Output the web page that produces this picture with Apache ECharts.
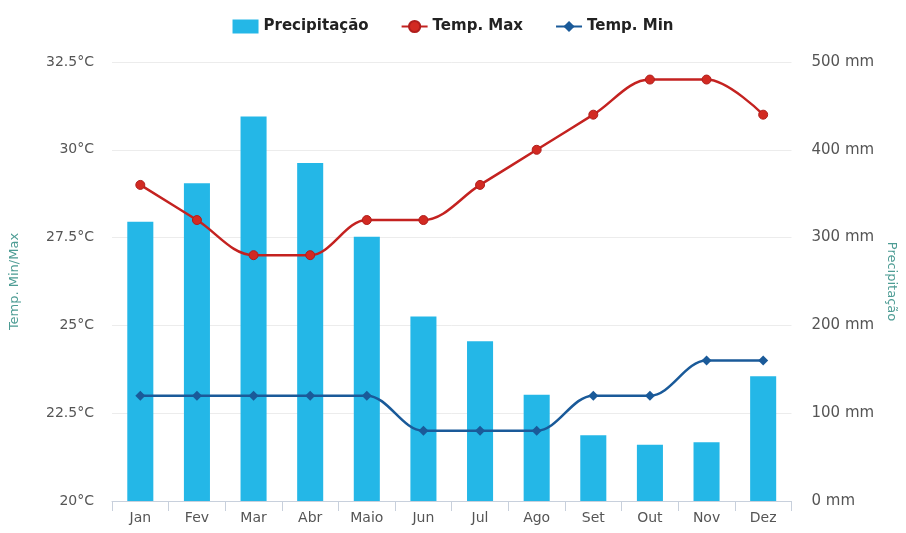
<!DOCTYPE html>
<html><head><meta charset="utf-8">
<script src="https://cdn.jsdelivr.net/npm/echarts@6/dist/echarts.min.js"></script>
<style>html,body{margin:0;padding:0;background:#fff}#c{width:906px;height:533px}</style>
</head><body><div id="c"></div>
<script>
const months = ['Jan','Fev','Mar','Abr','Maio','Jun','Jul','Ago','Set','Out','Nov','Dez'];
const precipitacao = [318, 362, 438, 385, 301, 210, 182, 121, 75, 64, 67, 142];
const tempMax = [29, 28, 27, 27, 28, 28, 29, 30, 31, 32, 32, 31];
const tempMin = [23, 23, 23, 23, 23, 22, 22, 22, 23, 23, 24, 24];
const font = 'DejaVu Sans';
const chart = echarts.init(document.getElementById('c'), null, {renderer:'canvas'});
chart.setOption({
  animation:false,
  backgroundColor:'#fff',
  textStyle:{fontFamily:font},
  legend:{
    top:14, left:'center', itemGap:32, itemWidth:26, itemHeight:14,
    textStyle:{fontFamily:font, fontWeight:'bold', fontSize:15, color:'#222'},
    data:[
      {name:'Precipitação', icon:'rect'},
      {name:'Temp. Max'},
      {name:'Temp. Min'}
    ]
  },
  grid:{left:110, right:111, top:62, bottom:32},
  xAxis:{
    type:'category', data:months,
    axisLine:{lineStyle:{color:'#c8d0dc'}},
    axisTick:{show:true, length:10, lineStyle:{color:'#c8d0dc'}},
    axisLabel:{color:'#555', fontSize:14, margin:10, fontFamily:font}
  },
  yAxis:[
    {type:'value', min:20, max:32.5, interval:2.5, position:'left',
     name:'Temp. Min/Max', nameLocation:'middle', nameGap:91, nameRotate:90,
     nameTextStyle:{color:'#4d9c94', fontSize:13, fontFamily:font},
     axisLabel:{color:'#555', fontSize:14, margin:18, formatter:v=>v+'°C'},
     splitLine:{lineStyle:{color:'#ececec'}}, axisLine:{show:false}, axisTick:{show:false}},
    {type:'value', min:0, max:500, interval:100, position:'right',
     name:'Precipitação', nameLocation:'middle', nameGap:93, nameRotate:-90,
     nameTextStyle:{color:'#4d9c94', fontSize:13, fontFamily:font},
     axisLabel:{color:'#555', fontSize:15, margin:20, formatter:v=>v+' mm'},
     splitLine:{show:false}, axisLine:{show:false}, axisTick:{show:false}}
  ],
  series:[
    {name:'Precipitação', type:'bar', yAxisIndex:1, data:precipitacao, barWidth:'46%',
     itemStyle:{color:'#24b7e7'}},
    {name:'Temp. Max', type:'line', yAxisIndex:0, data:tempMax, smooth:0.35,
     symbol:'circle', symbolSize:9,
     lineStyle:{color:'#c42220', width:2.5}, itemStyle:{color:'#d22a22', borderColor:'#b01e1c', borderWidth:1}},
    {name:'Temp. Min', type:'line', yAxisIndex:0, data:tempMin, smooth:0.35,
     symbol:'diamond', symbolSize:10,
     lineStyle:{color:'#1a5a99', width:2.5}, itemStyle:{color:'#1a5a99'}}
  ]
});
</script></body></html>
